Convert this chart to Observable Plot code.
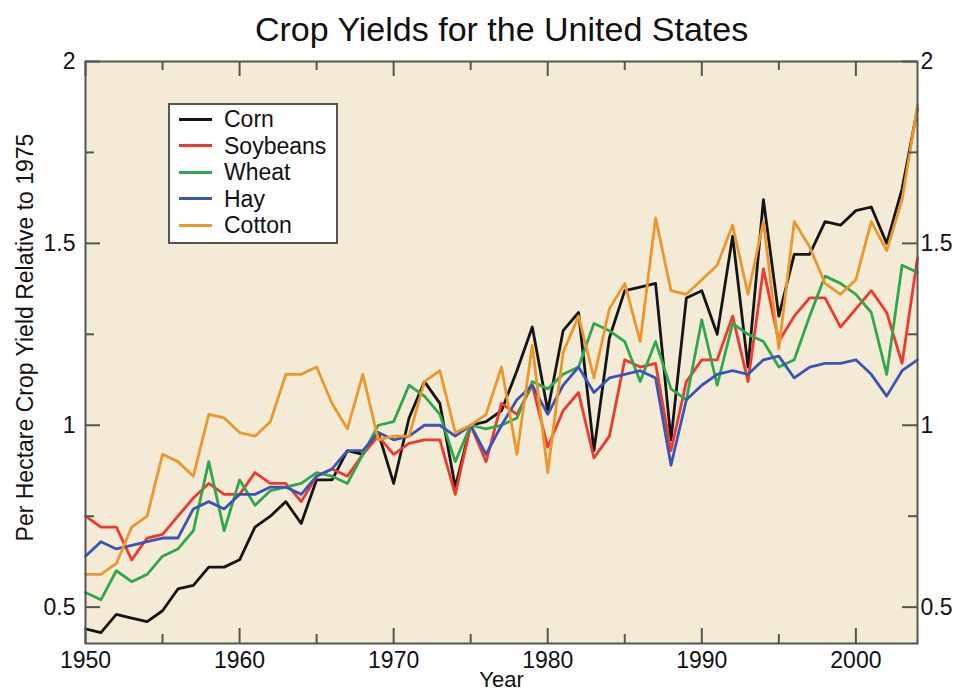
<!DOCTYPE html>
<html>
<head>
<meta charset="utf-8">
<script src="https://cdn.jsdelivr.net/npm/d3@7"></script>
<script src="https://cdn.jsdelivr.net/npm/@observablehq/plot@0.6"></script>
<style>
  html, body { margin: 0; padding: 0; background: #fff; }
  #wrap { position: relative; width: 967px; height: 692px; overflow: hidden; font-family: "Liberation Sans", Arial, Helvetica, sans-serif; }
  #legend { position: absolute; left: 168px; top: 103px; width: 170px; height: 141px; box-sizing: border-box; background: #fff; border: 2px solid #555; }
  .row { position: absolute; left: 0; height: 26px; display: flex; align-items: center; }
  .sw { width: 33px; height: 3px; margin-left: 9px; margin-right: 12px; }
  .lb { font-size: 23px; color: #111; line-height: 26px; }
</style>
</head>
<body>
<div id="wrap"><div id="legend"></div></div>
<script>
const years = d3.range(1950, 2005);
const crops = ["Corn", "Soybeans", "Wheat", "Hay", "Cotton"];
const colors = ["#151515", "#ee3a2c", "#2fa84b", "#3b55b6", "#ec972c"];
const corn = [0.44,0.43,0.48,0.47,0.46,0.49,0.55,0.56,0.61,0.61,
  0.63,0.72,0.75,0.79,0.73,0.85,0.85,0.93,0.92,0.98,
  0.84,1.02,1.12,1.06,0.83,1.00,1.01,1.04,1.15,1.27,
  1.04,1.26,1.31,0.93,1.24,1.37,1.38,1.39,0.96,1.35,
  1.37,1.25,1.52,1.16,1.62,1.30,1.47,1.47,1.56,1.55,
  1.59,1.60,1.50,1.65,1.87];
const soybeans = [0.75,0.72,0.72,0.63,0.69,0.70,0.75,0.80,0.84,0.81,
  0.81,0.87,0.84,0.84,0.79,0.86,0.88,0.86,0.92,0.97,
  0.92,0.95,0.96,0.96,0.81,1.00,0.90,1.06,1.03,1.11,
  0.94,1.04,1.09,0.91,0.97,1.18,1.16,1.17,0.93,1.12,
  1.18,1.18,1.30,1.12,1.43,1.23,1.30,1.35,1.35,1.27,
  1.32,1.37,1.31,1.17,1.46];
const wheat = [0.54,0.52,0.60,0.57,0.59,0.64,0.66,0.71,0.90,0.71,
  0.85,0.78,0.82,0.83,0.84,0.87,0.86,0.84,0.92,1.00,
  1.01,1.11,1.08,1.03,0.90,1.00,0.99,1.00,1.02,1.12,
  1.10,1.14,1.16,1.28,1.26,1.23,1.12,1.23,1.10,1.07,
  1.29,1.11,1.28,1.25,1.23,1.16,1.18,1.30,1.41,1.39,
  1.36,1.31,1.14,1.44,1.42];
const hay = [0.64,0.68,0.66,0.67,0.68,0.69,0.69,0.77,0.79,0.77,
  0.81,0.81,0.83,0.83,0.81,0.86,0.88,0.93,0.93,0.98,
  0.96,0.97,1.00,1.00,0.97,1.00,0.92,1.00,1.07,1.11,
  1.03,1.11,1.16,1.09,1.13,1.14,1.15,1.13,0.89,1.07,
  1.11,1.14,1.15,1.14,1.18,1.19,1.13,1.16,1.17,1.17,
  1.18,1.14,1.08,1.15,1.18];
const cotton = [0.59,0.59,0.62,0.72,0.75,0.92,0.90,0.86,1.03,1.02,
  0.98,0.97,1.01,1.14,1.14,1.16,1.06,0.99,1.14,0.96,
  0.97,0.97,1.12,1.15,0.98,1.00,1.03,1.16,0.92,1.22,
  0.87,1.20,1.30,1.13,1.32,1.39,1.23,1.57,1.37,1.36,
  1.40,1.44,1.55,1.36,1.56,1.21,1.56,1.49,1.39,1.36,
  1.40,1.56,1.48,1.62,1.88];
const xMajor = [1950, 1960, 1970, 1980, 1990, 2000];
const xMinor = [1955, 1965, 1975, 1985, 1995];
const yMajor = [0.5, 1, 1.5, 2];
const yMinor = [0.75, 1.25, 1.75];
const title = "Crop Yields for the United States";
const xLabel = "Year";
const yLabel = "Per Hectare Crop Yield Relative to 1975";

const series = [corn, soybeans, wheat, hay, cotton];
const data = [];
crops.forEach((c, i) => series[i].forEach((v, j) => data.push({crop: c, year: years[j], value: v})));

const W = 967, H = 692, mT = 61, mB = 49, mL = 85, mR = 50;
const FW = W - mL - mR, FH = H - mT - mB;
const tickC = "#555";
const maj = 15, mnr = 9;

const chart = Plot.plot({
  width: W, height: H,
  marginTop: mT, marginBottom: mB, marginLeft: mL, marginRight: mR,
  style: {fontFamily: '"Liberation Sans", Arial, Helvetica, sans-serif', fontSize: "22px", background: "transparent", color: "#111", overflow: "visible"},
  x: {domain: [1950, 2004]},
  y: {domain: [0.4, 2]},
  color: {domain: crops, range: colors},
  marks: [
    Plot.frame({fill: "#f4ebd6"}),
    Plot.lineY(data, {x: "year", y: "value", z: "crop", stroke: "crop", strokeWidth: 2.8}),
    Plot.tickX(xMajor, {x: d => d, insetTop: FH - maj, stroke: tickC, strokeWidth: 2}),
    Plot.tickX(xMajor, {x: d => d, insetBottom: FH - maj, stroke: tickC, strokeWidth: 2}),
    Plot.tickX(xMinor, {x: d => d, insetTop: FH - mnr, stroke: tickC, strokeWidth: 2}),
    Plot.tickX(xMinor, {x: d => d, insetBottom: FH - mnr, stroke: tickC, strokeWidth: 2}),
    Plot.tickY(yMajor, {y: d => d, insetRight: FW - maj, stroke: tickC, strokeWidth: 2}),
    Plot.tickY(yMajor, {y: d => d, insetLeft: FW - maj, stroke: tickC, strokeWidth: 2}),
    Plot.tickY(yMinor, {y: d => d, insetRight: FW - mnr, stroke: tickC, strokeWidth: 2}),
    Plot.tickY(yMinor, {y: d => d, insetLeft: FW - mnr, stroke: tickC, strokeWidth: 2}),
    Plot.frame({stroke: tickC, strokeWidth: 2}),
    Plot.axisX({anchor: "bottom", ticks: xMajor, tickSize: 0, tickPadding: 8, tickFormat: d => String(d), label: null, fontSize: 23}),
    Plot.axisY({anchor: "left", ticks: yMajor, tickSize: 0, tickPadding: 10, tickFormat: d => String(d), label: null, fontSize: 23}),
    Plot.axisY({anchor: "right", ticks: yMajor, tickSize: 0, tickPadding: 3, tickFormat: d => String(d), label: null, fontSize: 23}),
    Plot.text([title], {frameAnchor: "top", dy: -21, lineAnchor: "bottom", fontSize: 34, text: d => d, fill: "#111"}),
    Plot.text([xLabel], {frameAnchor: "bottom", dy: 43, lineAnchor: "bottom", fontSize: 22, text: d => d, fill: "#111"}),
    Plot.text([yLabel], {frameAnchor: "left", dx: -60, dy: -15, rotate: -90, textAnchor: "middle", fontSize: 23, text: d => d, fill: "#111"})
  ]
});
const wrap = document.getElementById("wrap");
wrap.insertBefore(chart, wrap.firstChild);

const legend = document.getElementById("legend");
crops.forEach((c, i) => {
  const row = document.createElement("div");
  row.className = "row";
  row.style.top = (1 + i * 26.5) + "px";
  const sw = document.createElement("div");
  sw.className = "sw";
  sw.style.background = colors[i];
  const lb = document.createElement("span");
  lb.className = "lb";
  lb.textContent = c;
  row.appendChild(sw);
  row.appendChild(lb);
  legend.appendChild(row);
});
</script>
</body>
</html>
